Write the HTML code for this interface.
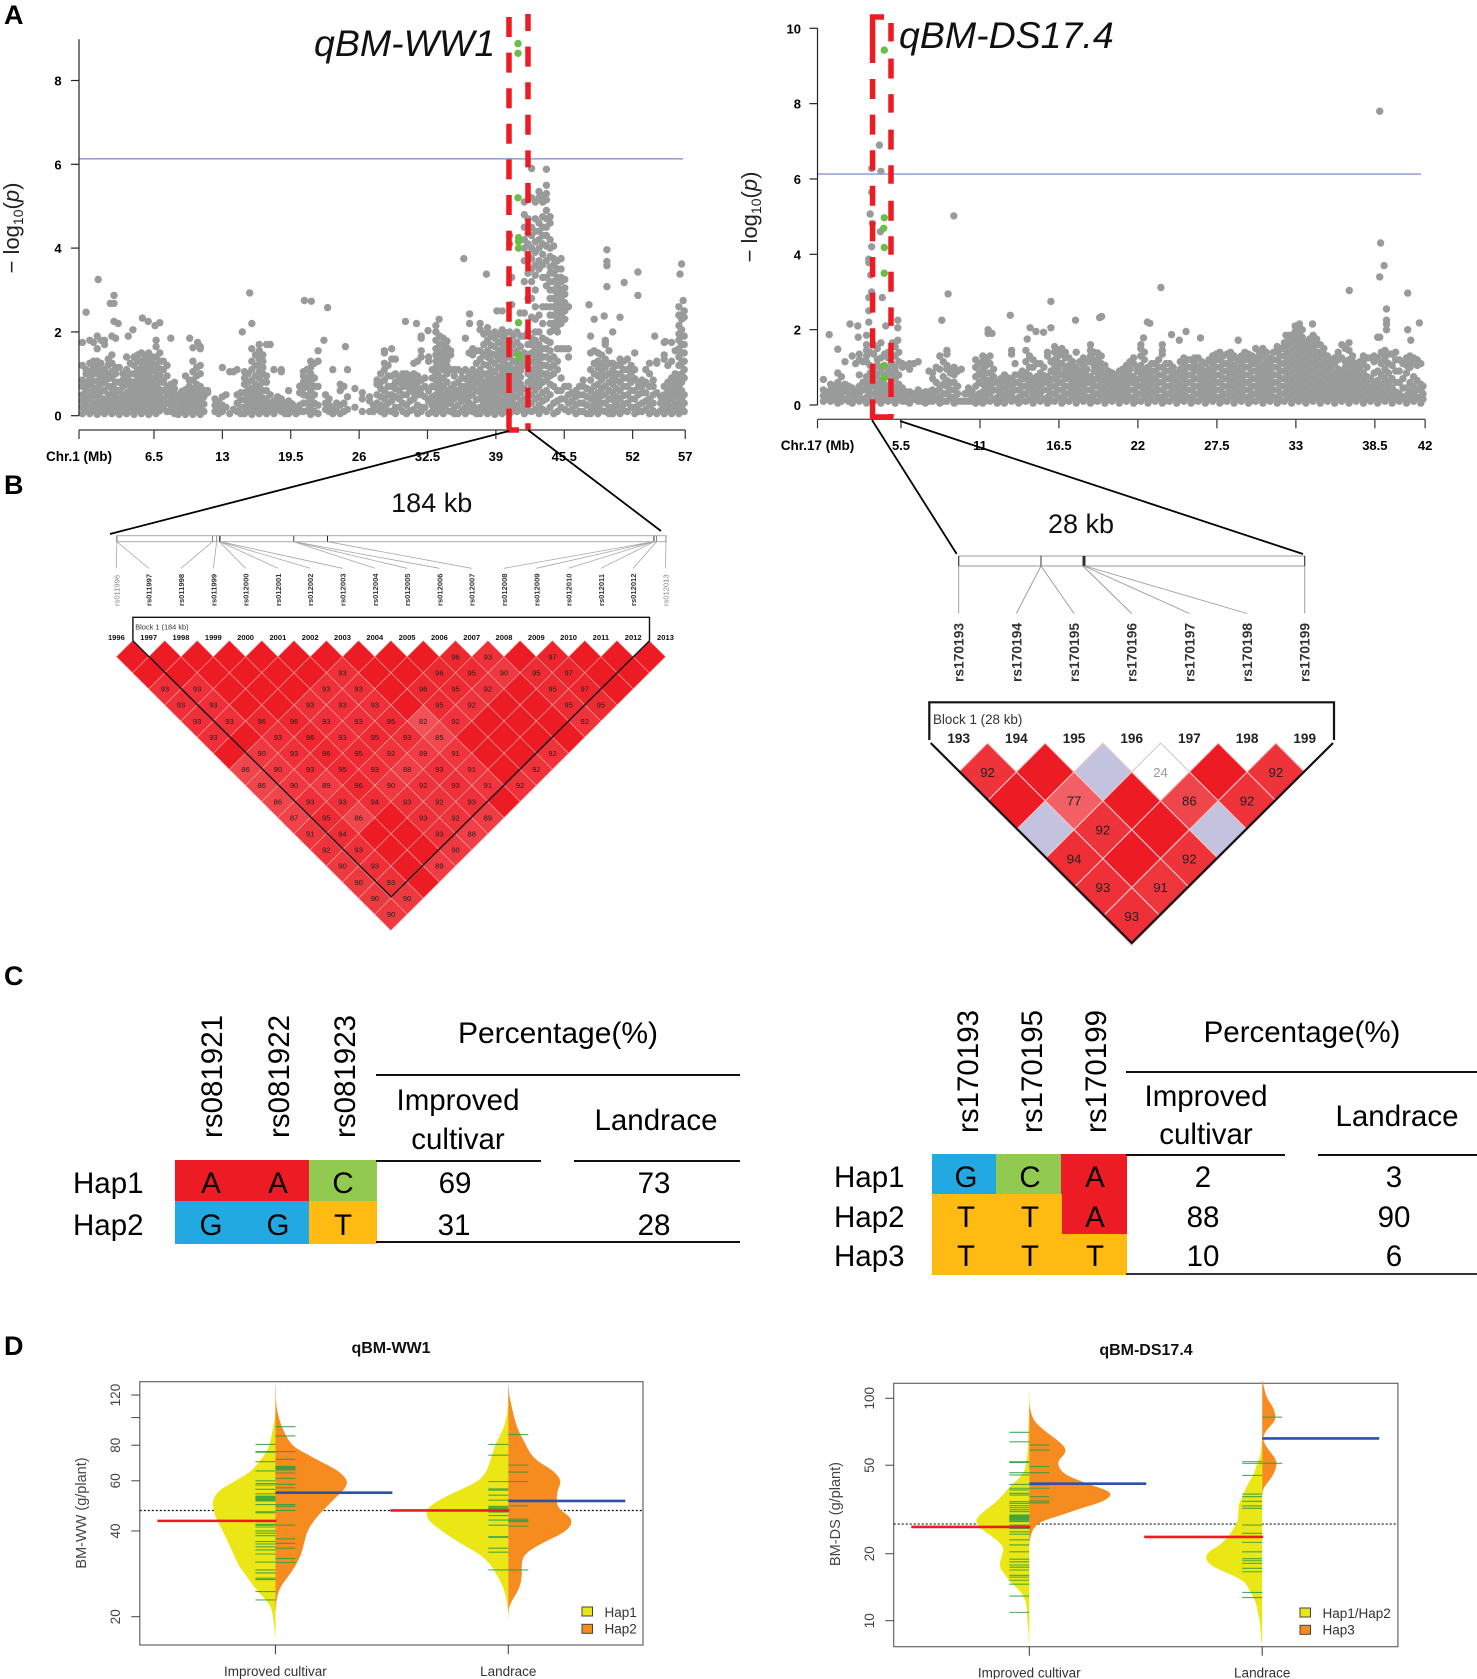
<!DOCTYPE html>
<html lang="en">
<head>
<meta charset="utf-8">
<title>qBM-WW1 and qBM-DS17.4 association figure</title>
<style>
html,body{margin:0;padding:0;background:#fff}
svg{display:block;font-family:"Liberation Sans",sans-serif;filter:blur(0.3px)}
.rs{font-size:29.5px;fill:#000}
.big{font-size:29.5px;fill:#000}
.letter{font-size:27px;font-weight:bold;fill:#000}
</style>
</head>
<body>
<svg id="fig" xmlns="http://www.w3.org/2000/svg" width="1477" height="1679" viewBox="0 0 1477 1679">
<rect x="0" y="0" width="1477" height="1679" fill="#fff"/>
<text class="letter" x="4" y="24">A</text>
<text class="letter" x="4" y="494">B</text>
<text class="letter" x="4" y="985">C</text>
<text class="letter" x="4" y="1355">D</text>

<g id="panelA"></g>
<g id="panelB"></g>

<g>
<rect x="175" y="1160" width="134" height="41" fill="#ed1c24"/>
<rect x="309" y="1160" width="68" height="41" fill="#92c950"/>
<rect x="175" y="1201" width="134" height="43" fill="#22a9e1"/>
<rect x="309" y="1201" width="68" height="43" fill="#ffbb11"/>
<text class="rs" transform="translate(222,1138) rotate(-90)">rs081921</text>
<text class="rs" transform="translate(289,1138) rotate(-90)">rs081922</text>
<text class="rs" transform="translate(355,1138) rotate(-90)">rs081923</text>
<text class="big" x="558" y="1043" text-anchor="middle" style="font-size:30px">Percentage(%)</text>
<line x1="376" x2="740" y1="1075" y2="1075" stroke="#111" stroke-width="2"/>
<text class="big" x="458" y="1110" text-anchor="middle">Improved</text>
<text class="big" x="458" y="1149" text-anchor="middle">cultivar</text>
<text class="big" x="656" y="1130" text-anchor="middle">Landrace</text>
<line x1="376" x2="541" y1="1161" y2="1161" stroke="#111" stroke-width="2"/>
<line x1="574" x2="740" y1="1161" y2="1161" stroke="#111" stroke-width="2"/>
<line x1="376" x2="740" y1="1242" y2="1242" stroke="#111" stroke-width="2"/>
<text class="big" x="73" y="1193">Hap1</text>
<text class="big" x="73" y="1235">Hap2</text>
<text class="big" x="211" y="1193" text-anchor="middle">A</text>
<text class="big" x="278" y="1193" text-anchor="middle">A</text>
<text class="big" x="343" y="1193" text-anchor="middle">C</text>
<text class="big" x="211" y="1235" text-anchor="middle">G</text>
<text class="big" x="278" y="1235" text-anchor="middle">G</text>
<text class="big" x="343" y="1235" text-anchor="middle">T</text>
<text class="big" x="455" y="1193" text-anchor="middle">69</text>
<text class="big" x="654" y="1193" text-anchor="middle">73</text>
<text class="big" x="454" y="1235" text-anchor="middle">31</text>
<text class="big" x="654" y="1235" text-anchor="middle">28</text>
</g>

<g>
<rect x="932" y="1154" width="64" height="40" fill="#22a9e1"/>
<rect x="996" y="1154" width="65" height="40" fill="#92c950"/>
<rect x="1061" y="1154" width="66" height="40" fill="#ed1c24"/>
<rect x="932" y="1194" width="195" height="81" fill="#ffbb11"/>
<rect x="1062" y="1194" width="65" height="40" fill="#ed1c24"/>
<text class="rs" transform="translate(978,1133) rotate(-90)">rs170193</text>
<text class="rs" transform="translate(1042,1133) rotate(-90)">rs170195</text>
<text class="rs" transform="translate(1106,1133) rotate(-90)">rs170199</text>
<text class="big" x="1302" y="1042" text-anchor="middle">Percentage(%)</text>
<line x1="1126" x2="1477" y1="1072" y2="1072" stroke="#111" stroke-width="2"/>
<text class="big" x="1206" y="1106" text-anchor="middle">Improved</text>
<text class="big" x="1206" y="1144" text-anchor="middle">cultivar</text>
<text class="big" x="1397" y="1126" text-anchor="middle">Landrace</text>
<line x1="1126" x2="1285" y1="1155" y2="1155" stroke="#111" stroke-width="2"/>
<line x1="1318" x2="1477" y1="1155" y2="1155" stroke="#111" stroke-width="2"/>
<line x1="1126" x2="1477" y1="1274" y2="1274" stroke="#333" stroke-width="2"/>
<text class="big" x="834" y="1187">Hap1</text>
<text class="big" x="834" y="1227">Hap2</text>
<text class="big" x="834" y="1266">Hap3</text>
<text class="big" x="966" y="1187" text-anchor="middle">G</text>
<text class="big" x="1030" y="1187" text-anchor="middle">C</text>
<text class="big" x="1095" y="1187" text-anchor="middle">A</text>
<text class="big" x="966" y="1227" text-anchor="middle">T</text>
<text class="big" x="1030" y="1227" text-anchor="middle">T</text>
<text class="big" x="1095" y="1227" text-anchor="middle">A</text>
<text class="big" x="966" y="1266" text-anchor="middle">T</text>
<text class="big" x="1030" y="1266" text-anchor="middle">T</text>
<text class="big" x="1095" y="1266" text-anchor="middle">T</text>
<text class="big" x="1203" y="1187" text-anchor="middle">2</text>
<text class="big" x="1394" y="1187" text-anchor="middle">3</text>
<text class="big" x="1203" y="1227" text-anchor="middle">88</text>
<text class="big" x="1394" y="1227" text-anchor="middle">90</text>
<text class="big" x="1203" y="1266" text-anchor="middle">10</text>
<text class="big" x="1394" y="1266" text-anchor="middle">6</text>
</g>

<g id="panelD"></g>
</svg>

<script>
/* ---------- Manhattan data: chromosome 1 ---------- */
const chr1TickLabels = [6.5,13,19.5,26,32.5,39,45.5,52,57];
const chr1YTicks = [0,2,4,6,8];
const chr1Threshold = 6.13;
const chr1ColumnMb = [-0.3,0.4,1.1,1.8,2.5,3.2,3.9,4.6,5.3,6.0,6.7,7.4,8.1,8.8,9.5,10.2,10.9,11.6,12.3,13.0,13.7,14.4,15.1,15.8,16.5,17.2,17.9,18.6,19.3,20.0,20.7,21.4,22.1,22.8,23.5,24.2,24.9,25.6,26.3,27.0,27.7,28.4,29.1,29.8,30.5,31.2,31.9,32.6,33.3,34.0,34.7,35.4,36.1,36.8,37.5,38.2,38.9,39.6,40.3,41.0,41.7,42.4,43.1,43.8,44.5,45.2,45.9,46.6,47.3,48.0,48.7,49.4,50.1,50.8,51.5,52.2,52.9,53.6,54.3,55.0,55.7,56.4,56.9];
const chr1ColumnLogP = [
[.05,.2,.35,.5,.7,.85,1.2,1.75],
[.05,.2,.4,.55,.75,.9,1.05,1.25,1.8],
[.03,.18,.33,.5,.66,.82,1,1.15,1.3,1.6,1.9],
[.05,.2,.38,.6,.8,.95,1.1,1.7,1.8],
[.05,.22,.38,.55,.7,.9,1.05,1.25,1.45,1.9],
[.03,.2,.4,.6,.8,1.15],
[.05,.22,.4,.55,.75,.9,1.1,1.4],
[.03,.2,.36,.5,.65,.8,1,1.2,1.4],
[.05,.2,.38,.55,.7,.85,1,1.15,1.3,1.5],
[.03,.18,.35,.5,.66,.82,1,1.15,1.32,1.5],
[.05,.22,.38,.55,.72,.9,1.05,1.2,1.4,1.65,1.8],
[.2,.4,.6,.8,.85,1.1,1.3],
[.1,.25,.42,.6,.75],
[.03,.18,.35,.5],
[.03,.18,.33,.48,.62,.95],
[.03,.18,.33,.5,.65,.85,1.05,1.3,1.62],
[.03,.18,.35,.52,.7,1,1.2,1.6],
[.55,.6],
[.1,.25,.4],
[.1,.25,.45,1.15],
[.05,1.05],
[.1,.3,.5,1.1],
[.05,.2,.38,.55,.75,.9,1.05],
[.03,.2,.35,.5,.65,.85,1.1,1.3,1.6],
[.05,.2,.35,.5,.7,.9,1.05,1.2,1.35,1.55,1.7],
[.05,.2,.4,.6,.8,.95,1.7],
[.05,.2,.35,1.1],
[.1,.25,.4,1.05,1.1],
[.05,.2,.35,.6],
[.05,.2],
[.1,.3,.5,.65,.8,.95,1.05],
[.03,.2,.4,.6,.8,1,1.15,1.3],
[.05,.25,.7,1.3,1.55],
[.15,.3,.5],
[.05,.2,1.1],
[.05,.25,.6,.75],
[.15,.45,1.1],
[.2,.65],
[.1,.4,.55],
[.1,.35,.45],
[.15,.3,.5,.75,.85],
[.05,.2,.4,.6,.85,1.1,1.25,1.5,1.55],
[.1,.35,.5,.7,.95,1.35,1.6],
[.2,.4,.6,.8,.9],
[.05,.25,.5,.7,.85,1],
[.15,.4,.55,.7,.9,1,1.25],
[.1,.2,.5,.65,.85,1.4,1.55,1.9,1.85],
[.05,.35,.6,1.3,1.4],
[.05,.2,.35,.5,.68,.85,1,1.15,1.3,1.45,1.6,1.8,2,2.15],
[.05,.2,.35,.5,.7,.9,1.1,1.25,1.4,1.55,1.7,1.85],
[.1,.3,.5,.65,1.1,1.45,1.55],
[.05,.25,.45,.6,.8,1.1],
[.05,.2,.38,.55,.7,.88,1.1,1.85],
[.1,.25,.5,.7,.9,1.1,1.45,1.6],
[.05,.2,.4,.55,.72,.9,1.1,1.35,1.55,2.05,2.2],
[.05,.2,.38,.55,.7,.85,1,1.2,1.4,1.55,1.8,2,2.1],
[.03,.2,.35,.5,.68,.85,1.05,1.25,1.45,1.65,1.85,2],
[.05,.2,.35,.55,.7,.85,1,1.15,1.3,1.45,1.6,1.75,1.9,2.05],
[.05,.2,.35,.5,.66,.85,1,1.2,1.4,1.6,1.8,2,4.1,4.3],
[.1,.25,.45,.65,.85,1,1.15,1.3,1.55,1.75,2],
[.05,.22,.4,.65,1.2,1.35,1.5,1.9,2.45,3.2,3.7,4,4.2,4.5,4.8,5.1],
[.1,.3,.5,.7,.9,1.1,1.3,1.5,1.7,1.85,2.35,2.8,3.2,3.5,3.75,4,4.3,4.5,5.2,5.9],
[.05,.25,.45,.7,.9,1.1,1.3,1.5,1.7,2,2.4,3.5,3.7,4,4.2,4.4,4.6,5.2,5.35],
[.1,.4,.6,.85,1,1.2,1.4,1.6,1.8,2.6,3.1,3.3,3.7,4.05,4.3,4.5,4.7,4.9,5.15,5.3,5.5,5.88],
[.05,.3,.7,1,1.2,1.4,2.05,2.2,2.4,2.6,2.8,3,3.2,3.4,3.6,3.75,4.05],
[.2,.4,.6,.9,1.6,2.2,2.4,2.6,2.8,3,3.2,3.3,3.5,3.75],
[.1,.3,.5,.7,1.4,1.6,2.6],
[.05,.25,.45,.6],
[.1,.3,.5,.7,.85],
[.05,.2,.4,.6,.85,1.1,1.5,1.9],
[.05,.2,.4,.55,.75,.95,1.15,1.3,1.5],
[.1,.3,.5,.7,.95,1.15,1.35,1.7,1.75,1.8],
[.05,.2,.38,.55,.75,.9,1.1,1.25,2],
[.05,.2,.4,.6,.8,1,1.2,1.35],
[.1,.3,.5,.7,.9,1.1,1.35],
[.05,.2,.4,.6,.88,1.1,1.5],
[.1,.3,.55,.7,.85],
[.05,.25,.4,.7,1,1.25],
[.05,.55,1.25,1.3],
[.05,.2,.35,.5,.7,1.35,1.45,1.75],
[.05,.2,.4,.55,.7,.9,1.3,1.75],
[.05,.15,.3,.5,.7,.9,1.2,1.4,1.6,1.8,1.95,2.15,2.4,2.6],
[.1,.3,.5,.9,1.1,1.3,1.5,1.7,1.9,2.35,2.5]
];
const chr1ExtraColumns = [
[0.05,[.12,.28,.45,.62,.78,1,1.1]],[0.75,[.12,.3,.48,.65,.82,1,1.15,1.3,1.75]],[1.45,[.1,.28,.42,.58,.75,.92,1.08,1.25,1.8]],
[2.15,[.12,.3,.48,.7,.88,1,1.2,1.35]],[2.85,[.12,.3,.48,.62,.8,1,1.15,1.85]],[3.55,[.12,.3,.5,.7,.85,1]],
[4.25,[.12,.3,.48,.65,.82,1,1.25]],[4.95,[.12,.28,.45,.58,.72,.9,1.1,1.3,1.45]],[5.65,[.12,.28,.46,.62,.78,.92,1.08,1.25,1.4]],
[6.35,[.1,.26,.42,.58,.75,.9,1.08,1.25,1.4]],[7.05,[.12,.3,.46,.62,.8,.98,1.12,1.3,1.5]],[7.75,[.1,.3,.5,.7,.95,1.2]],
[8.45,[.05,.18,.33,.5,.65,.8]],[9.15,[.1,.25,.42,.58]],[9.85,[.1,.25,.4,.55,.7,.85]],[10.55,[.1,.25,.42,.58,.75,.95,1.15]],
[11.25,[.1,.28,.45,.6]],[12.65,[.05,.18,.33]],[13.35,[.2,.5]],[14.05,[.15,1.05]],[14.75,[.05,.2,.38,.55]],
[15.45,[.12,.28,.45,.62,.8,1]],[16.15,[.12,.28,.42,.58,.75,.95,1.2,1.45]],[16.85,[.12,.28,.42,.6,.8,1,1.15,1.3,1.45]],
[17.55,[.12,.3,.5,1.7]],[18.25,[.15,.3,.45]],[18.95,[.05,.18,.3]],[19.65,[.12,.28]],[20.35,[.1,.25,.55,.7]],
[21.05,[.12,.3,.48,.7,.9,1.1]],[21.75,[.1,.3,.5,.7,.9,1.25]],[23.15,[.1,.25,.4]],[23.85,[.12,.3]],[24.55,[.1,.3,.7]],
[27.35,[.1,.25]],[28.05,[.1,.25,.45,.65,.8,1]],[28.75,[.12,.3,.5,.7,.95,1.2]],[29.45,[.05,.2,.45,.65,.8,1,1.35]],
[30.15,[.1,.3,.5,.7,.85,1]],[30.85,[.12,.35,.6,.8,.95]],[31.55,[.05,.25,.5,.62,.8,.95,1.3]],[32.25,[.2,.45,.7,.9]],
[32.95,[.1,.25,.45,.7,.9,1.1]],[33.65,[.12,.28,.42,.58,.76,.92,1.08,1.22,1.38,1.52,1.7,1.9]],
[34.35,[.12,.28,.42,.6,.8,1,1.18,1.32,1.48,1.62,1.78]],[35.05,[.05,.2,.4,.58,.75,.95,1.1]],[35.75,[.12,.35,.52,.7,.9,1.05]],
[36.45,[.12,.3,.46,.62,.8,1,1.5]],[37.15,[.05,.18,.38,.6,.8,1,1.25,1.55]],[37.85,[.12,.3,.48,.62,.8,1,1.22,1.45,1.7,1.95]],
[38.55,[.12,.28,.46,.62,.78,.92,1.1,1.3,1.48,1.68,1.9]],[39.25,[.12,.28,.42,.6,.76,.92,1.15,1.35,1.55,1.75,1.95]],
[39.95,[.12,.28,.45,.62,.78,.92,1.08,1.22,1.38,1.52,1.68,1.82,1.98]],[40.65,[.12,.28,.42,.58,.75,.92,1.1,1.3,1.5,1.7,1.9]],
[41.35,[.15,.35,.55,.75,.92,1.08,1.22,1.45,1.65,1.9]],[42.05,[.12,.3,.5,.8,1,1.25,1.45,1.7,2,2.8,3.4,3.85,4.1,4.35,4.7]],
[42.75,[.15,.4,.6,.8,1,1.2,1.4,1.6,1.8,2,2.3,2.6,3,3.35,3.6,3.9,4.15,4.4,4.7,5.1]],
[43.45,[.15,.35,.55,.8,1,1.2,1.4,1.6,1.85,2.2,2.6,3.3,3.6,3.85,4.1,4.3,4.5,4.75,5.1,5.25]],
[44.15,[.2,.5,.75,.95,1.15,1.35,1.55,1.75,2,2.2,2.4,2.6,2.8,3,3.2,3.4,3.55,3.8,4,4.2,4.6,4.75]],
[44.85,[.1,.35,.6,1.1,1.3,1.6,2,2.15,2.3,2.5,2.7,2.9,3.1,3.3,3.5,3.7]],[45.55,[.15,.4,.7,1.6,2.3,2.5,2.7,2.9,3.05,3.25]],
[46.25,[.15,.35,.55]],[46.95,[.1,.3,.5,.7]],[47.65,[.05,.25,.45,.65]],[48.35,[.12,.3,.5,.7,1,1.25,1.55]],
[49.05,[.12,.3,.48,.65,.85,1.05,1.25,1.45]],[49.75,[.05,.2,.4,.6,.8,1,1.25,1.55]],[50.45,[.12,.28,.45,.65,.85,1,1.2]],
[51.15,[.12,.28,.48,.7,.9,1.1,1.3]],[51.85,[.2,.4,.6,.8,1,1.2]],[52.55,[.1,.25,.5,.7,.8]],[53.25,[.15,.35,.55,.8,1.1]],
[53.95,[.12,.3,.5,.7,.85]],[54.65,[.12,.3,.45]],[55.35,[.12,.28,.45,.6,.8,1.2]],[56.05,[.12,.28,.45,.62,.8,1,1.55]],
[56.65,[.2,.4,.6,.8,1,1.25,1.5,1.7,1.9,2.05,2.3]]
];
const chr1OutlierMb = [0.05,1.2,2.35,2.7,2.7,2.7,3.1,4.05,4.5,5.4,5.95,6.6,7.05,8.1,9.9,10.65,10.9,14.9,15.8,15.6,20.8,21.45,23,22.65,24.7,30.4,31.45,32.55,33.6,35.95,38.1,36.5,36.5,39.1,39.6,40.5,40.5,41.3,47.85,48.35,49.3,49.55,49.55,49.55,49.55,50.8,51.2,52.5,52.5,54.1,55.1,56.65,56.5,56.8];
const chr1OutlierLogP = [2.47,3.25,2.68,2.68,2.87,2.25,2.2,1.9,2.05,2.33,2.25,2.15,2.22,1.85,1.85,1.75,1.65,2,2.2,2.93,2.75,2.73,2.58,1.8,1.65,2.25,2.2,2.03,2.3,3.75,3.38,2.43,2.2,2.5,2.5,3.3,2.65,2.45,2.65,2.3,2.38,3.96,3.68,3.58,3.08,2.35,3.18,3.43,2.87,1.9,1.77,3.62,3.38,2.75];
const chr1LeadMb = [41.1,41.1,41.1,41.15,41.15,41.15,41.15,41.1,41.2];
const chr1LeadLogP = [8.88,8.65,5.2,4.25,4.15,4,2.22,1.45,1.38];

/* ---------- Manhattan data: chromosome 17 ---------- */
const chr17TickLabels = [5.5,11,16.5,22,27.5,33,38.5,42];
const chr17YTicks = [0,2,4,6,8,10];
const chr17Threshold = 6.13;
const chr17ColumnMb = [0.1,0.6,1.1,1.6,2.1,2.6,3.1,3.6,4.1,4.6,5.1,5.6,6.1,6.7,7.2,7.7,8.2,8.7,9.2,9.7,10.2,10.7,11.2,11.7,12.2,12.7,13.2,13.7,14.2,14.7,15.2,15.7,16.2,16.7,17.2,17.7,18.2,18.7,19.2,19.7,20.2,20.7,21.2,21.7,22.2,22.7,23.2,23.7,24.2,24.7,25.2,25.7,26.2,26.7,27.2,27.7,28.2,28.7,29.2,29.7,30.2,30.7,31.2,31.7,32.2,32.7,33.2,33.7,34.2,34.7,35.2,35.7,36.2,36.7,37.2,37.7,38.2,38.7,39.2,39.7,40.2,40.7,41.2,41.7];
const chr17ColumnLogP = [
[.1,.25,.4,.68],[.1,.25,.4,.55],[.05,.2,.4,.6,.85,1.48],[.15,.4,.55,1.15],[.05,.25,.45,1.3],[.1,.3,.5,.8,1.2,1.35],
[.05,.2,.4,.55,.75,1.15,1.3,1.45,1.6,1.85],[.1,.3,.5,.7,.95,1.35,1.6],[.05,.25,.45,.65,.9,1.25,1.65],[.1,.3,.5,.75,.95,1.25,1.4],
[.05,.25,.45,.7,.9,1,1.3,1.55],[.1,.3,.45,1,1.1],[.05,.25,.35,.95,1.1],[.1,.25,.4,1.15],[.05,.2,.35],[.1,.25,.4,.7,.85],
[.05,.2,.45,.95,1.3],[.1,.3,.5,.65,.95,1.05,1.35,1.45],[.05,.2,.4,.6,.8,1],[.1,.95],[.1,.3,.45],[.05,.2,.5,.75,1,1.2],
[.05,.2,.35,.55,.75,.95,1.15,1.3],[.1,.3,.5,.65,.85,1.1,1.3],[.05,.2,.4,.6],[.05,.25,.45,.65,.8],[.1,.3,.5,.7,1.35,1.45],
[.05,.2,.4,.6,.8],[.1,.3,.5,.7,.85,1.15,1.45],[.05,.25,.45,.65,1,1.2],[.1,.3,.5,.7,.85,1.1],[.05,.2,.4,.6,.75,1.3,1.4],
[.1,.3,.5,.7,.85,1.05,1.2,1.4,1.55],[.05,.2,.4,.6,.8,1.1,1.35,1.5],[.1,.3,.5,.7,.85,1.05,1.25],[.05,.25,.45,.65,.8,1,1.4],
[.1,.3,.5,.7,.85,1.05,1.25],[.05,.2,.4,.6,.75,1.15,1.3,1.45,1.6],[.1,.3,.5,.7,.85,1,1.2,1.38],[.05,.25,.45,.65,.8,1.05],
[.1,.3,.5,.7,.85],[.05,.25,.45,.65,.9],[.1,.3,.5,.7,.85,1.05],[.05,.2,.4,.6,.75,1.1,1.25],[.1,.3,.5,.7,.85,1.05,1.3,1.5,1.6],
[.05,.25,.45,.65,.8,1],[.1,.3,.5,.7,.9,1.1],[.05,.2,.4,.6,.8,1,1.35,1.45,1.6],[.1,.3,.5,.7,.9,1.1],[.05,.25,.45,.65,.85],
[.1,.3,.5,.7,.9,1.1,1.25],[.05,.2,.4,.6,.8,1,1.2],[.1,.3,.5,.7,.9,1,1.25],[.05,.25,.45,.65,.85,1.1],[.1,.3,.5,.7,.9,1.1,1.3],
[.05,.2,.4,.6,.8,1,1.2,1.4],[.1,.3,.5,.7,.9,1.1,1.35],[.05,.25,.45,.65,.85,1.05,1.3],[.1,.3,.5,.7,.9,1.1,1.3],
[.05,.2,.4,.6,.8,1,1.2,1.35],[.1,.3,.5,.7,.9,1.1,1.25,1.5],[.05,.25,.45,.65,.85,1.05,1.3,1.5],[.1,.3,.5,.7,.9,1.1,1.25],
[.05,.2,.4,.6,.8,1,1.2,1.4,1.55],[.1,.3,.5,.7,.9,1.1,1.3,1.5,1.65],[.05,.25,.45,.65,.85,1.05,1.25,1.45,1.65,1.85],
[.1,.3,.5,.7,.9,1.1,1.3,1.5,1.7,1.9,2.1],[.05,.25,.45,.65,.85,1.05,1.25,1.45,1.65],[.1,.3,.5,.7,.9,1.1,1.3,1.5,1.7,1.85],
[.05,.25,.45,.65,.85,1.05,1.25,1.4,1.6],[.1,.3,.5,.7,.9,1.1,1.3],[.05,.25,.45,.65,.85,1.1,1.25],[.1,.3,.5,.7,.9,1.25,1.6],
[.05,.25,.45,.65,.85,1.05,1.2,1.45,1.65],[.1,.3,.5,.7,.9,1.1],[.05,.25,.45,.65,.85,1.1,1.3],[.1,.3,.5,.7,1.25],
[.05,.25,.45,.65,.9,1.25,1.8],[.1,.3,.5,.7,.95,1.2,1.3,1.45],[.05,.25,.45,.7,1.05,1.35],[.1,.3,.6,.9,1.2],
[.05,.25,.45,.85,1.05,1.25],[.1,.3,.5,.75,1.15,1.25],[.05,.2,.4,.55,1.1]
];
const chr17ExtraColumns = [
[0.35,[.15,.3]],[0.85,[.15,.3,.5]],[1.35,[.1,.3,.5,.75]],[1.85,[.1,.3,.5]],[2.35,[.15,.35,1.1]],[2.85,[.15,.4,.6,1.15]],
[3.35,[.12,.3,.48,.65,.85,1.05,1.4]],[3.85,[.15,.35,.55,.8,1.05,1.2,1.5]],[4.35,[.15,.35,.55,.8,1.05,1.35]],[4.85,[.15,.38,.6,.85,1.1,1.3]],
[5.35,[.15,.35,.55,.8,1.15,1.4]],[5.85,[.1,.2,.35,1.05]],[6.4,[.15,.3,1.1]],[6.95,[.1,.3]],[7.45,[.1,.25,.35,.9]],[7.95,[.15,.35,.6,1]],
[8.45,[.1,.3,.55,.75,1.15]],[8.95,[.2,.4,.6,.85,.95]],[9.45,[.1,.3,.5,.9]],[9.95,[.1,.3]],[10.45,[.1,.25,.35]],[10.95,[.1,.3,.6,.85,1.1]],
[11.45,[.12,.28,.45,.65,.85,1.05,1.25]],[11.95,[.15,.4,.6,.75,.95]],[12.45,[.1,.3,.5,.7]],[12.95,[.15,.35,.55,.72]],[13.45,[.15,.4,.6,.8,1.1]],
[13.95,[.12,.3,.5,.7,.9]],[14.45,[.15,.4,.6,.78,1,1.3]],[14.95,[.15,.35,.55,.75,1.1]],[15.45,[.15,.4,.6,.78,1]],[15.95,[.12,.3,.5,.68,.9,1.15]],
[16.45,[.2,.4,.6,.78,.95,1.12,1.3,1.45]],[16.95,[.12,.3,.5,.7,.9,1,1.25,1.4]],[17.45,[.2,.4,.6,.78,.95,1.15]],[17.95,[.15,.35,.55,.72,.9,1.15]],
[18.45,[.2,.4,.6,.78,.95,1.15]],[18.95,[.12,.3,.5,.68,.9,1.05,1.2,1.4]],[19.45,[.2,.4,.6,.78,.92,1.1,1.3]],[19.95,[.15,.35,.55,.72,.9]],
[20.45,[.2,.4,.6,.78]],[20.95,[.15,.35,.55,.75,.95]],[21.45,[.2,.4,.6,.78,.95,1.15]],[21.95,[.12,.3,.5,.68,.9,1]],[22.45,[.2,.4,.6,.78,.95,1.2,1.4]],
[22.95,[.15,.35,.55,.72,.9,1.1]],[23.45,[.2,.4,.6,.8,1,1.2]],[23.95,[.12,.3,.5,.7,.9,1.1]],[24.45,[.2,.4,.6,.8,1]],[24.95,[.15,.35,.55,.75,.95,1.15]],
[25.45,[.2,.4,.6,.8,1,1.2]],[25.95,[.12,.3,.5,.7,.9,1.1,1.25]],[26.45,[.2,.4,.6,.8,.95,1.15]],[26.95,[.15,.35,.55,.75,.95,1.2]],
[27.45,[.2,.4,.6,.8,1,1.2,1.35]],[27.95,[.12,.3,.5,.7,.9,1.1,1.3]],[28.45,[.2,.4,.6,.8,1,1.2,1.4]],[28.95,[.15,.35,.55,.75,.95,1.2]],
[29.45,[.2,.4,.6,.8,1,1.2,1.4]],[29.95,[.12,.3,.5,.7,.9,1.1,1.3]],[30.45,[.2,.4,.6,.8,1,1.2,1.4]],[30.95,[.15,.35,.55,.75,.95,1.15,1.4]],
[31.45,[.2,.4,.6,.8,1,1.2,1.4]],[31.95,[.12,.3,.5,.7,.9,1.1,1.3,1.5]],[32.45,[.2,.4,.6,.8,1,1.2,1.4,1.6,1.8]],
[32.95,[.15,.35,.55,.75,.95,1.15,1.35,1.55,1.75,1.95,2.1]],[33.45,[.2,.4,.6,.8,1,1.2,1.4,1.6,1.8,2]],[33.95,[.15,.35,.55,.75,.95,1.15,1.35,1.55,1.75]],
[34.45,[.2,.4,.6,.8,1,1.2,1.4,1.6,1.75]],[34.95,[.15,.35,.55,.75,.95,1.15,1.35,1.5]],[35.45,[.2,.4,.6,.8,1,1.2]],[35.95,[.15,.35,.55,.75,.95,1.2,1.4]],
[36.45,[.2,.4,.6,.8,1,1.15,1.5]],[36.95,[.15,.35,.55,.75,.95,1.15,1.3]],[37.45,[.2,.4,.6,.8,1,1.15]],[37.95,[.15,.35,.55,.75,1,1.25]],
[38.45,[.2,.4,.6,.85,1.15,1.3]],[38.95,[.15,.35,.55,.8,1.1,1.4]],[39.45,[.2,.4,.6,.85,1.1,1.35]],[39.95,[.15,.35,.6,.9,1.2,1.4]],
[40.45,[.2,.45,.7,1.1]],[40.95,[.15,.35,.6,1,1.15,1.3]],[41.45,[.2,.4,.65,1.05,1.2]],[41.85,[.15,.3,.5]]
];
const chr17OutlierMb = [4,3.46,4.1,3.46,3.36,3.5,4.07,3.46,3.26,3.26,3.4,3.46,3.26,4.2,3.26,3.26,9.18,8.78,8.34,38.84,38.9,39.14,38.84,36.72,40.79,39.31,39.31,39.31,39.31,41.6,40.79,41,38.84,23.6,22.66,22.83,15.94,13.11,17.65,19.33,19.47,1.95,2.49,0.5,2.52,4.44,5.28,5.28,5.28,4.91,14.49,14.9,15.43,15.94,14.29,11.57,11.57,11.84,24.34,24.88,25.35,26.36,28.98,22.39,34.16,33.25,32.31,32.58,33.15];
const chr17OutlierLogP = [6.9,6.28,6.2,5.65,5.07,4.82,4.6,4.2,3.87,3.78,3.45,3,2.85,2.85,2.5,2.2,5.02,2.95,2.25,7.8,4.3,3.7,3.4,3.04,2.97,2.55,2.25,2.15,2,2.18,2,1.72,1.8,3.12,2.2,2.17,2.75,2.38,2.25,2.32,2.35,2.15,2.1,1.87,1.8,2.1,2.25,2.05,1.72,1.65,2.05,1.95,1.93,2.05,1.75,2,1.9,1.9,1.87,1.72,1.95,1.78,1.72,1.78,2.15,2.15,1.85,1.85,1.9];
const chr17LeadMb = [4.34,4.34,4.3,4.34,4.34,4.3,4.34];
const chr17LeadLogP = [9.42,4.97,4.69,4.18,3.5,1.04,.72];

/* ---------- LD data (D' × 100; 0 = 100 with no label, -1 = low-LOD blue) ---------- */
const ldLeftMarkers = ['1996','1997','1998','1999','2000','2001','2002','2003','2004','2005','2006','2007','2008','2009','2010','2011','2012','2013'];
const ldLeftRows = [
[0,0,0,0,0,0,0,0,0,0,96,93,0,97,0,0,0],
[0,0,0,0,0,0,93,0,0,96,95,90,95,97,0,0],
[93,93,0,0,0,93,93,0,96,95,92,0,95,97,0],
[93,93,0,0,93,93,93,0,95,92,0,0,95,95],
[93,93,96,96,93,93,95,82,92,0,0,0,92],
[93,0,93,96,93,95,93,85,0,0,0,0],
[0,90,93,96,95,92,89,91,0,0,92],
[86,90,93,95,93,88,93,91,0,92],
[86,90,89,96,90,92,93,91,92],
[86,93,93,94,93,92,93,0],
[87,95,86,0,93,92,89],
[91,94,0,0,93,88],
[92,93,0,0,90],
[90,93,0,89],
[90,93,0],
[90,90],
[90]
];
const ldRightMarkers = ['193','194','195','196','197','198','199'];
const ldRightRows = [
[92,0,-1,24,0,92],
[0,77,0,86,92],
[-1,92,0,-1],
[94,0,92],
[93,91],
[93]
];

/* ---------- Bean plot data ---------- */
const wwTraitGrid = [17,18,20,22,25,28,30,33,36,40,44,48,52,56,60,65,70,75,80,90,100,110,120,130];
const wwImprovedHap1 = [1,2,6,12,50,75,92,105,118,133,150,158,158,140,100,60,40,25,15,7,1,0,0,0];
const wwImprovedHap2 = [0,0,0,1,8,35,50,65,72,80,100,125,150,175,184,160,115,75,40,20,8,2,1,1];
const wwLandraceHap1 = [0,0,0,2,10,29,41,69,119,169,207,207,169,119,74,54,47,39,34,14,4,1,0,0];
const wwLandraceHap2 = [0,0,0,2,28,35,33,38,80,150,165,125,122,125,135,115,75,55,45,25,15,8,2,1];
const wwImprovedRug1 = [80.5,76,75.6,70,65,60,58.7,58,56,54,53,52.6,52.2,51.8,51.4,51,49.5,46.7,46.3,43.1,42.2,41.9,41.3,40,39.3,38.5,36.7,36,35.2,34.3,33.2,31.1,29.2,28.5,27.3,27,24.5,22.9];
const wwImprovedRug2 = [92.9,86.2,76,71.4,67.4,66.9,66.5,66,65.5,63.9,61.2,58.3,56.7,49.5,48.8,47.2,41.9,37.5,36.2,34.8,32,31];
const wwLandraceRug1 = [80.5,73.8,59.6,56.2,55.6,53.4,51.3,48.8,48.4,48,47.3,46.6,45.3,43.7,41.9,38.2,38,34.8,33.7,29.2];
const wwLandraceRug2 = [87.2,68.1,64.4,59.6,51.3,49,44,43.5,43.1,41.6,29.2];
const wwGrandMean = 47.2;
const wwMeans = [43.4,54.5,47.2,51];

const dsTraitGrid = [8,9,10,11,12,13,14,15,16,17,18,19,20,21,22,24,26,28,30,32,34,36,38,40,43,46,50,53,56,60,65,70,75,80,90,100,110,120];
const dsImprovedHap1 = [1,2,5,5,8,15,30,50,60,72,75,72,68,65,70,95,125,137,125,105,85,72,60,50,30,15,8,6,5,3,3,3,2,1,1,1,0,0];
const dsImprovedHap2 = [0,0,0,0,0,0,0,0,0,0,0,0,0,0,0,3,10,30,85,130,180,205,205,170,120,85,72,75,90,92,70,45,25,10,1,0,0,0];
const dsLandraceHap1 = [2,4,6,12,15,25,35,45,75,110,135,143,140,125,105,85,72,62,60,60,58,50,45,40,30,20,15,8,4,2,1,0,0,0,0,0,0,0];
const dsLandraceHap2 = [0,0,0,0,0,0,0,0,0,0,0,0,0,0,0,0,0,0,0,0,0,0,1,5,20,30,37,35,25,12,1,6,20,35,30,12,5,1];
const dsImprovedRug1 = [70.3,63.7,51.9,51.4,46.3,45.2,41,39.4,38.7,37.4,36.7,34.3,33.7,32.9,32.2,31.5,30.9,29.9,29.6,29.4,29.1,28.9,28.6,28.4,28.1,27.9,26.9,26.5,26,25.1,24.5,23.1,21.9,20.4,18.9,18.4,17.8,17.4,16.9,16,15.7,15.2,14.6,12.9,10.9];
const dsImprovedRug2 = [61.7,58.5,49.3,46.3,40.8,39.4,36.1,34.5,33.9];
const dsLandraceRug1 = [51.9,51,45,37.1,36.1,34.4,32.8,32,26.9,24.7,23.9,22.5,20.4,19,18.6,18.1,17.2,16.6,13.4,12.7];
const dsLandraceRug2 = [82.2,51];
const dsGrandMean = 27.2;
const dsMeans = [26.4,41.3,23.8,66];

/* ---------- drawing helpers ---------- */
const NS = 'http://www.w3.org/2000/svg';
function mk(parent, tag, attrs, txt){
  const el = document.createElementNS(NS, tag);
  for (const k in attrs) el.setAttribute(k, attrs[k]);
  if (txt !== undefined) el.textContent = txt;
  parent.appendChild(el);
  return el;
}
function segment(parent, name, x1, y1, x2, y2, stroke, w, dash){
  const el = mk(parent, 'line', {x1:x1, y1:y1, x2:x2, y2:y2, stroke:stroke, 'stroke-width':w});
  if (dash) el.setAttribute('stroke-dasharray', dash);
  
  
  return el;
}
function label(parent, name, x, y, txt, size, opts){
  const o = opts || {};
  const el = mk(parent, 'text', {x:x, y:y, 'font-size':size, fill:o.fill || '#000', 'text-anchor':o.anchor || 'middle'}, txt);
  if (o.bold) el.setAttribute('font-weight', 'bold');
  if (o.italic) el.setAttribute('font-style', 'italic');
  if (o.rotate) {
    el.setAttribute('transform', 'rotate(-90 ' + x + ' ' + y + ')');
  }
  
  
  return el;
}
function dot(parent, name, x, y, fill){
  const el = mk(parent, 'circle', {cx:x.toFixed(1), cy:y.toFixed(1), r:3.7, fill:fill});
  
  
  return el;
}

/* ---------- Manhattan ---------- */
const panelA = document.getElementById('panelA');
function manhattan(cfg){
  const g = mk(panelA, 'g', {});
  
  
  const xs = v => cfg.x0 + cfg.xk * v;
  const ys = v => cfg.y0 - cfg.yk * v;
  cfg.colMb.forEach((mb, i) => {
    cfg.colP[i].forEach(p => { dot(g, 'snp-point', xs(mb), ys(p), '#999b9a'); });
  });
  cfg.extra.forEach(col => {
    col[1].forEach(p => { dot(g, 'snp-point', xs(col[0]), ys(p), '#999b9a'); });
  });
  cfg.outMb.forEach((mb, i) => { dot(g, 'snp-point', xs(mb), ys(cfg.outP[i]), '#999b9a'); });
  segment(g, 'significance-threshold', cfg.axisX, ys(cfg.thr), cfg.thrEnd, ys(cfg.thr), '#9aa5d6', 1.6);
  cfg.leadMb.forEach((mb, i) => { dot(g, 'lead-snp-point', xs(mb), ys(cfg.leadP[i]), '#6abd45'); });
  segment(g, 'y-axis', cfg.axisX, cfg.axisTop, cfg.axisX, ys(0), '#222', 1.2);
  cfg.yTicks.forEach(t => {
    segment(g, 'y-tick', cfg.axisX - 8, ys(t), cfg.axisX, ys(t), '#222', 1.2);
    label(g, 'y-tick-label', cfg.yLabelX, ys(t) + 5, String(t), 13, {bold:true, anchor:cfg.yLabelAnchor});
  });
  segment(g, 'x-axis', cfg.axisX, cfg.xAxisY, xs(cfg.xTicks[cfg.xTicks.length - 1]), cfg.xAxisY, '#555', 1.4);
  segment(g, 'x-tick-start', cfg.axisX, cfg.xAxisY, cfg.axisX, cfg.xAxisY + 9, '#333', 1.2);
  label(g, 'x-axis-title', cfg.axisX, cfg.xLabelY, cfg.chrLabel, 13.5, {bold:true});
  cfg.xTicks.forEach(t => {
    segment(g, 'x-tick', xs(t), cfg.xAxisY, xs(t), cfg.xAxisY + 9, '#333', 1.2);
    label(g, 'x-tick-label', xs(t), cfg.xLabelY, String(t), 13, {bold:true});
  });
  label(g, 'qtl-title', cfg.titleX, cfg.titleY, cfg.title, 37.5, {italic:true, anchor:'start', fill:'#111'});
  const yt = label(g, 'y-axis-title', cfg.yTitleX, cfg.yTitleY, '\u2212 log', 22, {rotate:true, fill:'#222'});
  const sub = mk(yt, 'tspan', {dy:4, 'font-size':14}, '10');
  
  
  const par = mk(yt, 'tspan', {dy:-4}, '(');
  
  
  const pv = mk(yt, 'tspan', {'font-style':'italic'}, 'p');
  
  
  const par2 = mk(yt, 'tspan', {}, ')');
  
  
  cfg.box.forEach(b => {
    segment(g, 'qtl-highlight-box-edge', b[0], b[1], b[2], b[3], '#ed1c24', 5.5, b[4]);
  });
  cfg.zoom.forEach(z => {
    segment(g, 'zoom-connector', z[0], z[1], z[2], z[3], '#000', 1.8);
  });
}
manhattan({name:'manhattan-chr1', x0:85.6, xk:10.52, y0:415.7, yk:41.9, axisX:79, axisTop:39.3, xAxisY:430, xLabelY:461,
  thr:chr1Threshold, thrEnd:683, colMb:chr1ColumnMb, colP:chr1ColumnLogP, extra:chr1ExtraColumns, outMb:chr1OutlierMb, outP:chr1OutlierLogP,
  leadMb:chr1LeadMb, leadP:chr1LeadLogP, yTicks:chr1YTicks, xTicks:chr1TickLabels, chrLabel:'Chr.1 (Mb)',
  yLabelX:58, yLabelAnchor:'middle', title:'qBM-WW1', titleX:314, titleY:56, yTitleX:19, yTitleY:228,
  box:[[509,17,509,432,'20 15.6'],[528,14,528,430,'17 15.6 20 15.6'],[507,430,519,430]],
  zoom:[[509,431,110,534],[528,430,661,531]]});
manhattan({name:'manhattan-chr17', x0:822, xk:14.36, y0:405, yk:37.67, axisX:817.5, axisTop:28.3, xAxisY:419.3, xLabelY:450,
  thr:chr17Threshold, thrEnd:1421, colMb:chr17ColumnMb, colP:chr17ColumnLogP, extra:chr17ExtraColumns, outMb:chr17OutlierMb, outP:chr17OutlierLogP,
  leadMb:chr17LeadMb, leadP:chr17LeadLogP, yTicks:chr17YTicks, xTicks:chr17TickLabels, chrLabel:'Chr.17 (Mb)',
  yLabelX:801, yLabelAnchor:'end', title:'qBM-DS17.4', titleX:899, titleY:48, yTitleX:757, yTitleY:217,
  box:[[872.6,15,872.6,63,''],[872.6,79,872.6,419,'20 15.6'],[891,23,891,418,'18.5 17 20 15.6'],[870,17,884,17],[870,417,893,417]],
  zoom:[[872,420,956.7,554],[900,421,1303,554]]});

/* ---------- LD ---------- */
const panelB = document.getElementById('panelB');
function ldColor(v){
  if (v === -1) return '#c3c3e0';
  if (v === 0) return '#ed1c24';
  if (v < 50) return '#ffffff';
  const t = (100 - v) / 78;
  const c = (a) => Math.round(a + (255 - a) * t);
  return 'rgb(' + c(237) + ',' + c(28) + ',' + c(36) + ')';
}
function ldGrid(g, rows, x0, step, y0, hh, size, strokeW, lineColor){
  rows.forEach((row, r) => {
    row.forEach((v, i) => {
      const cx = x0 + step * (i + (r + 1) / 2);
      const cy = y0 + r * hh;
      const hw = step / 2;
      const pts = [[cx, cy - hh], [cx + hw, cy], [cx, cy + hh], [cx - hw, cy]].map(p => p[0].toFixed(1) + ',' + p[1].toFixed(1)).join(' ');
      const poly = mk(g, 'polygon', {points:pts, fill:ldColor(v), stroke:(v > 0 && v < 50) ? '#ccc' : lineColor, 'stroke-width':strokeW});
      
      
      if (v > 0) {
        label(g, 'ld-value', cx, cy + size * 0.36, String(v), size, {fill:v < 50 ? '#999' : '#222'});
      }
    });
  });
}
(function(){
  const g = mk(panelB, 'g', {});
  
  
  const x0 = 116.4, step = 32.3;
  label(g, 'region-size-label', 431.7, 512, '184 kb', 27, {fill:'#111'});
  const strip = mk(g, 'rect', {x:116.8, y:535.7, width:549.2, height:6, fill:'#fff', stroke:'#aaa', 'stroke-width':1});
  
  
  const origins = [116.8,116.8,212.5,216.7,219.5,220,220.2,220.4,293.6,293.8,294,327.5,653.5,653.8,654,654.3,656.5,666];
  const tickDark = [219.5,293.6,327.5];
  origins.forEach(o => {
    segment(g, 'gene-strip-marker', o, 535.7, o, 541.7, tickDark.indexOf(o) >= 0 ? '#222' : '#888', 1);
  });
  ldLeftMarkers.forEach((m, i) => {
    const x = x0 + step * i;
    const faint = (i === 0 || i === ldLeftMarkers.length - 1);
    segment(g, 'marker-connector', origins[i], 541.7, x, 568.3, '#a8a8a8', 0.8);
    label(g, 'marker-name', x + 3, 606, 'rs0' + (i < 4 ? '119' : '120') + m.slice(2), 7.6, {anchor:'start', bold:!faint, rotate:true, fill:faint ? '#888' : '#333'});
    label(g, 'marker-number', x, 640, m, 7.6, {bold:true, fill:'#111'});
  });
  ldGrid(g, ldLeftRows, x0, step, 656.7, 16.1, 7.6, 0.6, '#f5a6a9');
  const top = mk(g, 'polyline', {points:'132.9,640.7 132.9,617.3 649.5,617.3 649.5,640.7', fill:'none', stroke:'#111', 'stroke-width':1.4});
  
  
  const vee = mk(g, 'polyline', {points:'132.9,640.7 391.2,897 649.5,640.7', fill:'none', stroke:'#111', 'stroke-width':1.4});
  
  
  label(g, 'block-label', 135.2, 629.5, 'Block 1 (184 kb)', 7.4, {anchor:'start', fill:'#333'});
})();
(function(){
  const g = mk(panelB, 'g', {});
  
  
  const x0 = 958.7, step = 57.67;
  label(g, 'region-size-label', 1081, 533, '28 kb', 27, {fill:'#111'});
  const strip = mk(g, 'rect', {x:958.7, y:556, width:346, height:10, fill:'#fff', stroke:'#aaa', 'stroke-width':1.2});
  
  
  const origins = [958.7,1041,1041,1083,1084,1085,1304.7];
  origins.forEach(o => {
    segment(g, 'gene-strip-marker', o, 556, o, 566, '#333', 1);
  });
  ldRightMarkers.forEach((m, i) => {
    const x = x0 + step * i;
    segment(g, 'marker-connector', origins[i], 566, x, 613.5, '#999', 0.9);
    label(g, 'marker-name', x + 5, 682, 'rs170' + m, 13.8, {anchor:'start', bold:true, rotate:true, fill:'#333'});
    label(g, 'marker-number', x, 743, m, 13.6, {bold:true, fill:'#222'});
  });
  ldGrid(g, ldRightRows, x0, step, 772, 28.87, 13.2, 1.1, '#f4c4c6');
  const top = mk(g, 'polyline', {points:'929.3,740 929.3,702.3 1334,702.3 1334,740', fill:'none', stroke:'#111', 'stroke-width':2.2});
  
  
  const vee = mk(g, 'polyline', {points:'930.7,743 1131.7,943 1333,743', fill:'none', stroke:'#111', 'stroke-width':2.2});
  
  
  label(g, 'block-label', 933, 724, 'Block 1 (28 kb)', 13.4, {anchor:'start', fill:'#333'});
})();

/* ---------- Bean plots ---------- */
const panelD = document.getElementById('panelD');
function beanPlot(cfg){
  const g = mk(panelD, 'g', {});
  
  
  const ys = v => cfg.yBase - cfg.yK * Math.log(v / cfg.vBase);
  const k = 0.3954;
  const box = mk(g, 'rect', {x:cfg.box[0], y:cfg.box[1], width:cfg.box[2] - cfg.box[0], height:cfg.box[3] - cfg.box[1], fill:'#fff', stroke:'#666', 'stroke-width':1.2});
  
  
  segment(g, 'grand-mean-line', cfg.box[0], ys(cfg.grand), cfg.box[2], ys(cfg.grand), '#111', 1.2, '2 2');
  function half(cx, dens, side, fill, name){
    const pts = dens.map((d, i) => [cx + side * d * k, ys(cfg.grid[i])]);
    let path = 'M' + cx + ' ' + pts[0][1].toFixed(1) + ' L' + pts[0][0].toFixed(1) + ' ' + pts[0][1].toFixed(1);
    for (let i = 1; i < pts.length - 1; i++) {
      const mx = (pts[i][0] + pts[i + 1][0]) / 2;
      const my = (pts[i][1] + pts[i + 1][1]) / 2;
      path += ' Q' + pts[i][0].toFixed(1) + ' ' + pts[i][1].toFixed(1) + ' ' + mx.toFixed(1) + ' ' + my.toFixed(1);
    }
    const last = pts[pts.length - 1];
    path += ' L' + last[0].toFixed(1) + ' ' + last[1].toFixed(1) + ' L' + cx + ' ' + last[1].toFixed(1) + ' Z';
    const p = mk(g, 'path', {d:path, fill:fill});
    
    
  }
  function rug(cx, vals, side, name){
    vals.forEach(v => {
      segment(g, name, cx, ys(v), cx + side * 20, ys(v), '#2e9e3f', 1.1, '').setAttribute('opacity', '0.85');
    });
  }
  cfg.cx.forEach((cx, i) => {
    half(cx, cfg.left[i], -1, '#ebe717', 'bean-left-half');
    half(cx, cfg.right[i], 1, '#f68b1f', 'bean-right-half');
    rug(cx, cfg.rugL[i], -1, 'rug-mark-left');
    rug(cx, cfg.rugR[i], 1, 'rug-mark-right');
    segment(g, 'group-mean-left', cx - 118, ys(cfg.means[i * 2]), cx + 1, ys(cfg.means[i * 2]), '#ed1c24', 2.6);
    segment(g, 'group-mean-right', cx, ys(cfg.means[i * 2 + 1]), cx + 117, ys(cfg.means[i * 2 + 1]), '#2f4fa8', 2.6);
    segment(g, 'x-tick', cx, cfg.box[3], cx, cfg.box[3] + 9, '#333', 1);
    label(g, 'x-tick-label', cx, cfg.box[3] + 31, cfg.groups[i], 13.5, {fill:'#333'});
  });
  cfg.yTicks.forEach(t => {
    segment(g, 'y-tick', cfg.box[0] - 8.5, ys(t), cfg.box[0], ys(t), '#444', 1);
  });
  cfg.yLabels.forEach(t => {
    label(g, 'y-tick-label', cfg.yLabelX, ys(t), String(t), 13.5, {rotate:true, fill:'#444'});
  });
  label(g, 'y-axis-title', cfg.yTitleX, cfg.yTitleY, cfg.yTitle, 14.5, {rotate:true, fill:'#444'});
  label(g, 'plot-title', cfg.titleX, cfg.titleY, cfg.title, 16, {bold:true, fill:'#111'});
  cfg.legend.forEach((name, i) => {
    const r = mk(g, 'rect', {x:cfg.legendX, y:cfg.legendY + i * 17.3, width:10.5, height:9, fill:i ? '#f68b1f' : '#ebe717', stroke:'#444', 'stroke-width':1});
    
    
    label(g, 'legend-label', cfg.legendX + 22.5, cfg.legendY + 10 + i * 16.6, name, 13.5, {anchor:'start', fill:'#333'});
  });
}
beanPlot({name:'bean-plot-ww', yBase:1616.7, vBase:20, yK:123.7, box:[139.8,1381.7,643,1645], grid:wwTraitGrid, cx:[275.4,508.3],
  left:[wwImprovedHap1,wwLandraceHap1], right:[wwImprovedHap2,wwLandraceHap2],
  rugL:[wwImprovedRug1,wwLandraceRug1], rugR:[wwImprovedRug2,wwLandraceRug2],
  means:wwMeans, grand:wwGrandMean, groups:['Improved cultivar','Landrace'],
  yTicks:[20,40,60,80,100,120], yLabels:[20,40,60,80,120], yLabelX:120, yTitle:'BM-WW (g/plant)', yTitleX:86, yTitleY:1513,
  title:'qBM-WW1', titleX:391, titleY:1353, legend:['Hap1','Hap2'], legendX:582, legendY:1607});
beanPlot({name:'bean-plot-ds', yBase:1620.7, vBase:10, yK:96.6, box:[893.7,1383.3,1397.9,1646.7], grid:dsTraitGrid, cx:[1029.3,1262.2],
  left:[dsImprovedHap1,dsLandraceHap1], right:[dsImprovedHap2,dsLandraceHap2],
  rugL:[dsImprovedRug1,dsLandraceRug1], rugR:[dsImprovedRug2,dsLandraceRug2],
  means:dsMeans, grand:dsGrandMean, groups:['Improved cultivar','Landrace'],
  yTicks:[10,20,50,100], yLabels:[10,20,50,100], yLabelX:874, yTitle:'BM-DS (g/plant)', yTitleX:840, yTitleY:1514,
  title:'qBM-DS17.4', titleX:1146, titleY:1355, legend:['Hap1/Hap2','Hap3'], legendX:1300, legendY:1608});
</script>
</body>
</html>
